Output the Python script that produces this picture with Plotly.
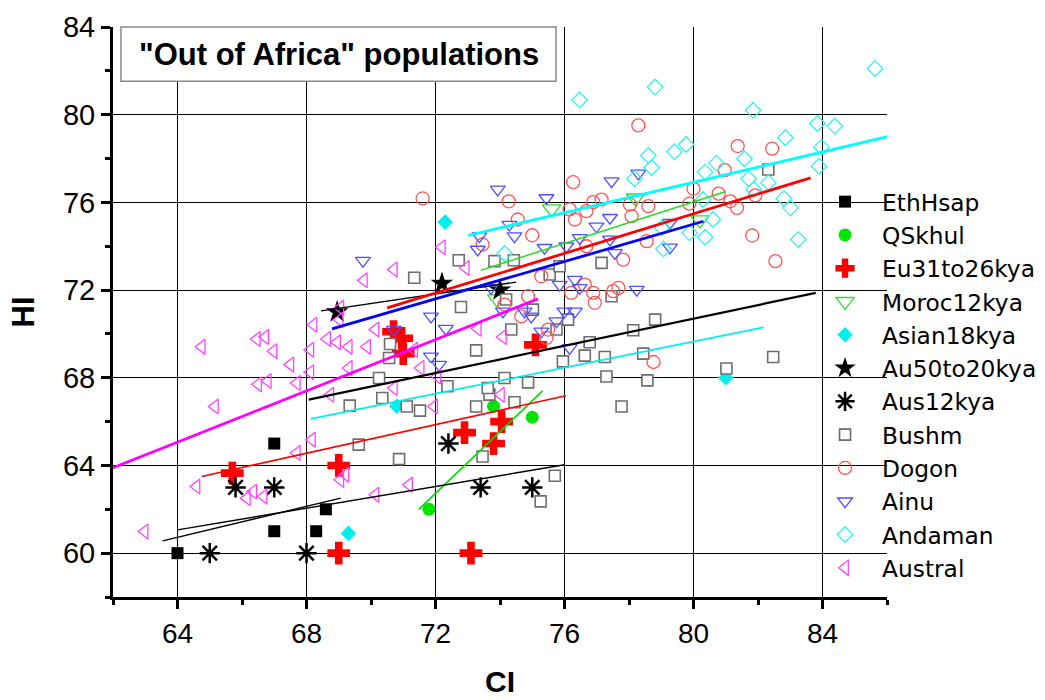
import plotly.graph_objects as go

# ---- data: cranial index (CI) vs height index (HI) per population ----
eth_ci = [64.0, 67.0, 67.0, 68.3, 68.6]
eth_hi = [60.0, 65.0, 61.0, 61.0, 62.0]

qsk_ci = [71.8, 73.8, 75.0]
qsk_hi = [62.0, 66.7, 66.2]

eu_ci = [65.7, 69.0, 69.0, 70.7, 70.95, 71.0, 72.9, 74.05, 73.8, 73.1, 75.1]
eu_hi = [63.65, 64.0, 60.0, 70.1, 69.8, 69.1, 65.5, 66.0, 65.0, 60.0, 69.5]

mor_ci = [73.9, 75.6, 78.2, 80.2]
mor_hi = [71.6, 75.7, 76.2, 75.2]

asi_ci = [69.3, 70.8, 72.3, 81.0]
asi_hi = [60.9, 66.7, 75.1, 68.0]

au50_ci = [68.95, 72.2, 74.0]
au50_hi = [71.0, 72.3, 72.0]

aus12_ci = [65.0, 65.8, 67.0, 68.0, 72.4, 73.4, 75.0]
aus12_hi = [60.0, 63.0, 63.0, 60.0, 65.0, 63.0, 63.0]

bush_ci = [72.72, 71.34, 73.83, 74.43, 75.54, 77.15, 75.85, 82.32, 77.46, 74.19,
           75.02, 75.75, 76.11, 74.35, 72.79, 73.26, 75.95, 76.63, 76.78, 77.25,
           78.13, 78.81, 78.44, 77.3, 78.57, 77.77, 81.02, 82.47, 72.37, 73.26,
           73.67, 74.14, 74.87, 74.45, 73.62, 70.59, 70.56, 70.25, 70.35, 69.34,
           71.11, 71.52, 69.62, 70.87, 73.46, 75.7, 75.26]
bush_hi = [73.36, 72.56, 73.32, 73.36, 72.71, 73.24, 73.09, 77.5, 71.72, 71.57,
           71.11, 70.2, 70.65, 70.2, 71.23, 69.25, 68.75, 69.01, 69.62, 68.95,
           70.17, 70.65, 69.1, 68.06, 67.88, 66.69, 68.42, 68.95, 67.61, 66.69,
           67.23, 67.99, 67.79, 66.88, 67.53, 69.54, 68.9, 67.99, 67.08, 66.73,
           66.69, 66.5, 64.95, 64.29, 64.41, 63.53, 62.36]

dog_ci = [71.6, 74.27, 74.55, 75.0, 73.46, 75.28, 78.29, 81.37, 82.44, 80.97,
          81.92, 80.0, 80.78, 81.14, 81.35, 79.87, 81.82, 82.54, 78.6, 78.03,
          78.08, 78.55, 77.15, 76.89, 76.68, 76.27, 76.16, 76.32, 76.68, 77.82,
          76.63, 76.21, 76.89, 77.51, 77.67, 76.94, 74.14, 74.66, 75.49, 75.44,
          78.76, 74.87]
dog_hi = [76.18, 76.05, 75.22, 74.5, 74.08, 72.63, 79.51, 78.57, 78.45, 77.47,
          76.32, 76.62, 76.4, 76.05, 75.75, 75.94, 74.49, 73.32, 75.83, 75.9,
          75.37, 74.23, 76.13, 76.01, 75.6, 76.92, 75.68, 75.22, 74.0, 73.39,
          72.25, 71.87, 71.87, 71.95, 72.1, 71.42, 71.34, 70.8, 70.2, 69.82,
          68.72, 71.72]

ain_ci = [69.75, 73.93, 75.44, 74.29, 74.45, 73.36, 73.31, 75.38, 77.46, 78.29,
          76.99, 77.41, 76.47, 76.06, 77.41, 77.56, 79.27, 79.27, 75.85, 76.32,
          76.47, 78.24, 74.09, 74.76, 75.28, 75.75, 76.0, 76.32, 76.16, 71.86,
          72.32, 70.71, 71.86, 72.11, 73.72, 74.97]
ain_hi = [73.34, 76.59, 76.2, 74.99, 74.46, 74.46, 73.85, 73.93, 76.97, 77.32,
          74.91, 75.3, 74.38, 74.0, 74.31, 73.7, 73.95, 75.07, 72.25, 72.48,
          72.1, 72.02, 71.03, 71.03, 70.12, 70.58, 71.03, 71.03, 69.36, 70.8,
          70.24, 70.2, 68.98, 68.6, 72.1, 70.8]

and_ci = [85.63, 78.81, 76.47, 81.85, 83.84, 84.38, 82.85, 79.77, 79.41, 78.6,
          78.7, 78.17, 83.97, 83.89, 81.58, 80.71, 80.36, 81.71, 82.32, 81.87,
          80.29, 82.8, 83.01, 80.6, 79.88, 80.36, 83.25, 79.07, 79.02, 74.14]
and_hi = [82.11, 81.26, 80.67, 80.2, 79.6, 79.48, 78.95, 78.64, 78.31, 78.14,
          77.58, 77.08, 78.52, 77.65, 77.99, 77.78, 77.38, 77.08, 76.9, 76.59,
          76.13, 76.18, 75.75, 75.22, 74.61, 74.41, 74.31, 73.88, 74.84, 73.67]

ast_ci = [72.2, 70.71, 72.94, 69.78, 69.05, 68.22, 69.03, 70.14, 66.46, 66.72,
          68.64, 68.95, 69.31, 69.88, 68.12, 66.98, 64.75, 67.5, 68.12, 67.7,
          66.5, 66.8, 65.16, 69.31, 71.34, 71.54, 70.71, 71.96, 68.74, 68.17,
          67.7, 64.59, 66.15, 66.35, 66.67, 69.05, 69.21, 70.14, 71.18, 62.98,
          73.31, 74.09, 74.03, 72.06]
ast_hi = [73.95, 72.94, 73.01, 72.45, 71.19, 70.42, 70.65, 70.2, 69.77, 69.86,
          69.77, 69.62, 69.41, 69.41, 69.28, 69.21, 69.41, 68.6, 68.25, 67.76,
          67.7, 67.85, 66.69, 68.45, 69.28, 68.45, 67.53, 66.69, 67.23, 65.17,
          64.57, 63.04, 62.51, 62.81, 62.58, 63.35, 63.58, 62.66, 63.12, 60.99,
          70.24, 69.86, 67.23, 68.06]

names = ["EthHsap", "QSkhul", "Eu31to26kya", "Moroc12kya", "Asian18kya",
         "Au50to20kya", "Aus12kya", "Bushm", "Dogon", "Ainu", "Andaman", "Austral"]
series_ci = [eth_ci, qsk_ci, eu_ci, mor_ci, asi_ci, au50_ci, aus12_ci,
             bush_ci, dog_ci, ain_ci, and_ci, ast_ci]
series_hi = [eth_hi, qsk_hi, eu_hi, mor_hi, asi_hi, au50_hi, aus12_hi,
             bush_hi, dog_hi, ain_hi, and_hi, ast_hi]

# linear-fit segments per population (start/end CI and HI), same order as names
fit_ci_start = [63.54, 71.48, 64.75, 73.40, 68.13, 68.45, 64.00, 68.07, 70.50, 68.79, 73.00, 61.90]
fit_ci_end   = [69.06, 75.32, 76.04, 81.00, 82.17, 74.50, 76.00, 83.79, 83.63, 80.31, 86.02, 75.18]
fit_hi_start = [60.56, 62.00, 63.50, 72.90, 66.12, 71.05, 61.06, 67.00, 71.19, 70.23, 74.49, 63.84]
fit_hi_end   = [62.51, 67.40, 67.18, 76.50, 70.30, 72.36, 64.03, 71.87, 77.12, 75.14, 79.00, 71.60]

# ---- marker and fit-line styles ----
marker_styles = [
    dict(symbol="square", size=12, color="black"),
    dict(symbol="circle", size=13, color="#00e600"),
    dict(symbol="cross", size=19, color="#ff0000"),
    dict(symbol="triangle-down-open", size=16, color="#33dd33", line=dict(width=1.3)),
    dict(symbol="diamond", size=12, color="#00eeee"),
    dict(symbol="star", size=17, color="black"),
    dict(symbol="asterisk-open", size=17, color="black", line=dict(width=2.5, color="black")),
    dict(symbol="square", size=11, color="white", line=dict(width=1.6, color="#6e6e6e")),
    dict(symbol="circle-open", size=13, color="#ff5555", line=dict(width=1.3)),
    dict(symbol="triangle-down-open", size=13, color="#5050ff", line=dict(width=1.3)),
    dict(symbol="diamond-open", size=12, color="#33f2f2", line=dict(width=1.3)),
    dict(symbol="triangle-left-open", size=13, color="#ff44ff", line=dict(width=1.3)),
]
fit_styles = [
    dict(color="black", width=1.4),
    dict(color="#00dd00", width=1.6),
    dict(color="#ff0000", width=1.6),
    dict(color="#22dd22", width=1.5),
    dict(color="#00eeee", width=1.8),
    dict(color="black", width=1.4),
    dict(color="black", width=1.4),
    dict(color="black", width=2.2),
    dict(color="#ff0000", width=2.8),
    dict(color="#0000ff", width=2.8),
    dict(color="#00ffff", width=2.8),
    dict(color="#ff00ff", width=2.8),
]

fig = go.Figure()

for name, xs, ys, mk in zip(names, series_ci, series_hi, marker_styles):
    fig.add_trace(go.Scatter(x=xs, y=ys, mode="markers", name=name, marker=mk,
                             legendgroup=name))

for x0, x1, y0, y1, ln in zip(fit_ci_start, fit_ci_end, fit_hi_start, fit_hi_end, fit_styles):
    fig.add_trace(go.Scatter(x=[x0, x1], y=[y0, y1], mode="lines",
                             line=ln, showlegend=False, hoverinfo="skip"))

common = dict(
    showline=True, linewidth=3, linecolor="black",
    ticks="outside", ticklen=9, tickwidth=3, tickcolor="black",
    showgrid=True, gridcolor="black", gridwidth=1.3,
    zeroline=False, automargin=False,
    minor=dict(dtick=2, ticks="outside", ticklen=5, tickwidth=3,
               tickcolor="black", showgrid=False),
)

fig.update_xaxes(range=[62, 86], tick0=64, dtick=4, **common,
                 tickfont=dict(family="Liberation Sans, Arial", size=28, color="black"),
                 title=dict(text="<b>CI</b>", standoff=24,
                            font=dict(family="Liberation Sans, Arial", size=30, color="black")))
fig.update_yaxes(range=[58, 84], tick0=60, dtick=4, **common,
                 tickfont=dict(family="Liberation Sans, Arial", size=29, color="black"),
                 title=dict(text="<b>HI</b>", standoff=20,
                            font=dict(family="Liberation Sans, Arial", size=31, color="black")))
fig.update_yaxes(minor_tick0=58)
fig.update_xaxes(minor_tick0=62)

# title box in the upper-left corner of the plot
fig.add_shape(type="rect", xref="paper", yref="paper",
              x0=0.0103, x1=0.5724, y0=0.905, y1=1.0,
              line=dict(color="#8a8a8a", width=1.5), fillcolor="white", layer="above")
fig.add_annotation(xref="paper", yref="paper", x=0.0310, y=0.9526,
                   xanchor="left", yanchor="middle", showarrow=False,
                   text='<b>"Out of Africa" populations</b>',
                   font=dict(family="Liberation Sans, Arial", size=31, color="black"))

fig.update_layout(
    width=1045, height=700,
    margin=dict(l=113, r=158, t=27, b=103, autoexpand=False),
    plot_bgcolor="white", paper_bgcolor="white",
    showlegend=True,
    legend=dict(x=0.898, y=0.7316, xanchor="left", yanchor="top",
                bgcolor="rgba(0,0,0,0)", borderwidth=0, tracegroupgap=0,
                itemwidth=64,
                font=dict(family="DejaVu Sans, Liberation Sans", size=23.3, color="black")),
)

fig.write_html("out.html")
